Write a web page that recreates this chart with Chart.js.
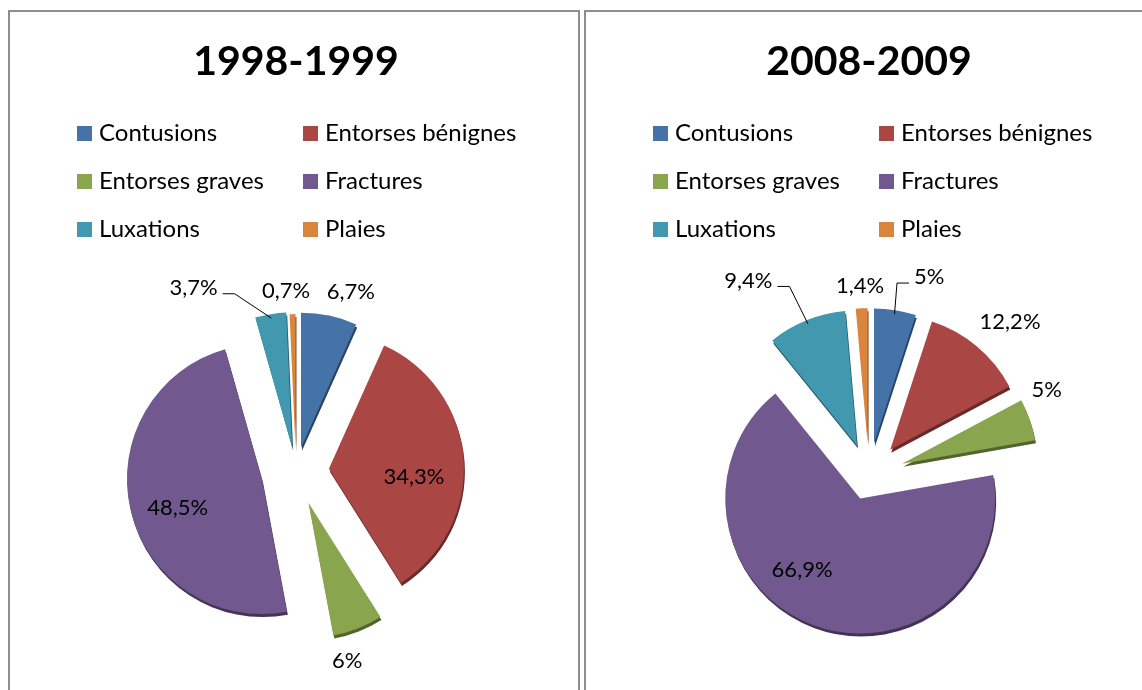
<!DOCTYPE html>
<html lang="fr">
<head>
<meta charset="utf-8">
<title>Blessures 1998-1999 / 2008-2009</title>
<script src="https://cdn.jsdelivr.net/npm/chart.js@4.4.1/dist/chart.umd.min.js"></script>
<style>
  html, body { margin: 0; padding: 0; background: #fff; overflow: hidden; }
  body { width: 1142px; height: 690px; position: relative; }
  .panel { position: absolute; top: 10px; width: 572px; height: 700px; box-sizing: border-box; border: 2px solid #8e8e8e; }
  #panelA { left: 8px; }
  #panelB { left: 584px; }
  canvas { position: absolute; top: 12px; }
  #chartA { left: 10px; }
  #chartB { left: 586px; }
</style>
</head>
<body>
<div class="panel" id="panelA"></div>
<div class="panel" id="panelB"></div>
<canvas id="chartA" width="568" height="678"></canvas>
<canvas id="chartB" width="568" height="678"></canvas>
<script>
// données
const categories = ["Contusions", "Entorses bénignes", "Entorses graves", "Fractures", "Luxations", "Plaies"];
const colors = ["#4572A7", "#AA4643", "#89A54E", "#71588F", "#4198AF", "#DB843D"];

const title1999 = "1998-1999";
const values1999 = [6.7, 34.3, 6, 48.5, 3.7, 0.7];

const title2009 = "2008-2009";
const values2009 = [5, 12.2, 5, 66.9, 9.4, 1.4];

// mise en forme : écartement des parts (px)
const explode1999 = [24, 33, 34, 35, 24, 22];
const explode2009 = [32, 33, 35, 25, 32, 32];
// étiquettes : [distance au centre, décalage angulaire en degrés, trait de rappel]
const labelPos1999 = [[187, 5, false], [118, 7, false], [197, 6.4, false], [124, -4.2, false], [210, -20, true], [180, -1.9, false]];
const labelPos2009 = [[207, 7.9, true], [208, 2.7, false], [197, -6.5, false], [116, 14.7, false], [229, -9.8, true], [189, -0.2, false]];

/**
 * Secteurs éclatés avec une petite épaisseur (effet 3D) + étiquettes
 */
const explodedPie = {
  id: "explodedPie",
  beforeDatasetDraw(chart, args, opts) {
    const ctx = chart.ctx;
    const arcs = args.meta.data;
    const shift = (arc, i) => {
      const mid = (arc.startAngle + arc.endAngle) / 2;
      const d = opts.explode[i] || 0;
      return [Math.cos(mid) * d, Math.sin(mid) * d];
    };
    // épaisseur
    arcs.forEach((arc, i) => {
      const [dx, dy] = shift(arc, i);
      ctx.save();
      ctx.filter = "brightness(0.6)";
      ctx.translate(dx + 1, dy + 3);
      arc.draw(ctx);
      ctx.restore();
    });
    // dessus
    arcs.forEach((arc, i) => {
      const [dx, dy] = shift(arc, i);
      ctx.save();
      ctx.translate(dx, dy);
      arc.draw(ctx);
      ctx.restore();
    });
    return false;
  },
  afterDatasetsDraw(chart, args, opts) {
    const ctx = chart.ctx;
    const meta = chart.getDatasetMeta(0);
    const values = chart.data.datasets[0].data;
    ctx.save();
    ctx.font = "22px Lato";
    ctx.fillStyle = "#000";
    ctx.strokeStyle = "#000";
    ctx.lineWidth = 1;
    ctx.textAlign = "center";
    ctx.textBaseline = "middle";
    meta.data.forEach((arc, i) => {
      const [dist, nudge, leader] = opts.labels[i];
      const mid = (arc.startAngle + arc.endAngle) / 2;
      const a = mid + (nudge * Math.PI) / 180;
      const lx = arc.x + Math.cos(a) * dist;
      const ly = arc.y + Math.sin(a) * dist;
      const text = String(values[i]).replace(".", ",") + "%";
      ctx.fillText(text, lx, ly);
      if (leader) {
        const r = arc.outerRadius + (opts.explode[i] || 0) - 4;
        const ex = arc.x + Math.cos(mid) * r;
        const ey = arc.y + Math.sin(mid) * r;
        const side = ex > lx ? 1 : -1;
        const w = ctx.measureText(text).width;
        const x0 = lx + side * (w / 2 + 5);
        const y0 = ly + 6;
        ctx.beginPath();
        ctx.moveTo(x0, y0);
        ctx.lineTo(x0 + side * 12, y0);
        ctx.lineTo(ex, ey);
        ctx.stroke();
      }
    });
    ctx.restore();
  },
};

/**
 * Légende sur deux colonnes
 */
const gridLegend = {
  id: "gridLegend",
  afterDraw(chart, args, opts) {
    const ctx = chart.ctx;
    const bg = chart.data.datasets[0].backgroundColor;
    ctx.save();
    ctx.font = "24px Lato";
    ctx.textAlign = "left";
    ctx.textBaseline = "middle";
    chart.data.labels.forEach((label, i) => {
      const x = opts.columns[i % 2];
      const y = opts.rows[Math.floor(i / 2)];
      ctx.fillStyle = bg[i];
      ctx.fillRect(x, y - 7.5, 15, 15);
      ctx.fillStyle = "#000";
      ctx.fillText(label, x + 22, y);
    });
    ctx.restore();
  },
};

function makeChart(id, title, values, explode, labelPos, pad) {
  return new Chart(document.getElementById(id), {
    type: "pie",
    data: {
      labels: categories,
      datasets: [
        {
          data: values,
          backgroundColor: colors,
          borderWidth: 0,
          radius: 135,
        },
      ],
    },
    options: {
      responsive: false,
      animation: false,
      events: [],
      layout: { padding: pad },
      plugins: {
        title: {
          display: true,
          text: title,
          color: "#000",
          font: { family: "Lato", size: 41, weight: "bold" },
          padding: { top: 25, bottom: 174 },
        },
        legend: { display: false },
        tooltip: { enabled: false },
        explodedPie: { explode, labels: labelPos },
        gridLegend: { columns: [67, 293], rows: [121.5, 169.5, 217.5] },
      },
    },
    plugins: [explodedPie, gridLegend],
  });
}

makeChart("chartA", title1999, values1999, explode1999, labelPos1999, { left: 4, bottom: 8 });
makeChart("chartB", title2009, values2009, explode2009, labelPos2009, { right: 2, bottom: 0 });
</script>
</body>
</html>
